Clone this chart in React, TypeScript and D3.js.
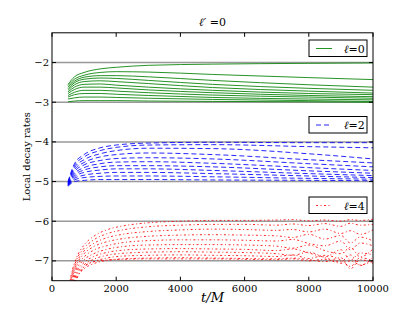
import React from 'react';
import * as d3 from 'd3';

// sample times (t/M) and read-off curve values for each family
const tGreen = [500, 700, 1000, 1500, 2000, 3000, 5000, 8000, 10000];
const green = [
  [-2.55, -2.36, -2.25, -2.16, -2.12, -2.07, -2.04, -2.02, -2.01],
  [-2.58, -2.42, -2.32, -2.25, -2.23, -2.24, -2.3, -2.38, -2.43],
  [-2.62, -2.47, -2.37, -2.33, -2.33, -2.36, -2.45, -2.56, -2.62],
  [-2.66, -2.51, -2.42, -2.39, -2.4, -2.45, -2.55, -2.65, -2.7],
  [-2.7, -2.56, -2.48, -2.46, -2.48, -2.53, -2.63, -2.72, -2.77],
  [-2.74, -2.62, -2.55, -2.54, -2.57, -2.62, -2.7, -2.78, -2.81],
  [-2.78, -2.68, -2.62, -2.62, -2.64, -2.69, -2.76, -2.83, -2.86],
  [-2.83, -2.75, -2.7, -2.7, -2.72, -2.76, -2.82, -2.87, -2.9],
  [-2.87, -2.81, -2.78, -2.78, -2.8, -2.83, -2.88, -2.92, -2.94],
  [-2.92, -2.89, -2.87, -2.87, -2.88, -2.9, -2.93, -2.96, -2.98],
  [-2.99, -2.97, -2.96, -2.96, -2.96, -2.97, -2.98, -2.99, -3.0],
];

const tBlue = [500, 700, 1000, 1500, 2000, 3000, 5000, 8000, 10000];
const blue = [
  [-5.0, -4.55, -4.32, -4.15, -4.08, -4.03, -4.01, -4.02, -4.02],
  [-5.02, -4.6, -4.38, -4.22, -4.14, -4.08, -4.07, -4.12, -4.15],
  [-5.03, -4.65, -4.45, -4.3, -4.22, -4.16, -4.17, -4.3, -4.43],
  [-5.05, -4.7, -4.52, -4.38, -4.32, -4.28, -4.32, -4.45, -4.53],
  [-5.06, -4.75, -4.58, -4.47, -4.42, -4.4, -4.43, -4.55, -4.63],
  [-5.07, -4.8, -4.65, -4.55, -4.51, -4.5, -4.54, -4.65, -4.72],
  [-5.08, -4.84, -4.71, -4.63, -4.6, -4.6, -4.63, -4.73, -4.79],
  [-5.09, -4.88, -4.77, -4.71, -4.68, -4.68, -4.72, -4.8, -4.85],
  [-5.1, -4.92, -4.84, -4.79, -4.77, -4.77, -4.8, -4.86, -4.9],
  [-5.1, -4.96, -4.9, -4.87, -4.86, -4.86, -4.88, -4.92, -4.94],
  [-5.12, -5.0, -4.97, -4.95, -4.95, -4.95, -4.96, -4.97, -4.98],
];

const tRed = [500, 600, 750, 1000, 1300, 1700, 2200, 3000, 4000, 5000, 6000, 7000, 7500, 8000, 8500, 9000, 9300, 9600, 10000];
const red = [
  [-7.8, -7.35, -6.95, -6.6, -6.38, -6.22, -6.12, -6.04, -6.0, -5.98, -5.98, -5.97, -5.96, -5.99, -5.97, -6.0, -5.96, -5.98, -5.95],
  [-7.85, -7.4, -7.0, -6.68, -6.47, -6.32, -6.22, -6.14, -6.1, -6.08, -6.08, -6.1, -6.07, -6.11, -6.06, -6.13, -6.05, -6.1, -6.08],
  [-7.9, -7.45, -7.07, -6.75, -6.56, -6.42, -6.33, -6.26, -6.22, -6.2, -6.21, -6.23, -6.21, -6.27, -6.2, -6.31, -6.24, -6.33, -6.22],
  [-7.95, -7.5, -7.12, -6.82, -6.64, -6.52, -6.44, -6.38, -6.35, -6.34, -6.35, -6.37, -6.41, -6.33, -6.45, -6.36, -6.55, -6.4, -6.5],
  [-8.0, -7.55, -7.18, -6.9, -6.73, -6.62, -6.54, -6.49, -6.47, -6.47, -6.48, -6.5, -6.46, -6.56, -6.62, -6.5, -6.72, -6.55, -6.62],
  [-8.0, -7.6, -7.24, -6.97, -6.82, -6.71, -6.64, -6.6, -6.59, -6.59, -6.6, -6.63, -6.68, -6.6, -6.74, -6.82, -6.66, -6.9, -6.7],
  [-8.0, -7.65, -7.3, -7.04, -6.89, -6.79, -6.73, -6.7, -6.69, -6.7, -6.71, -6.74, -6.7, -6.8, -6.9, -6.72, -6.98, -6.8, -6.85],
  [-8.0, -7.7, -7.35, -7.1, -6.96, -6.86, -6.81, -6.78, -6.77, -6.78, -6.79, -6.82, -6.86, -6.78, -6.92, -7.02, -6.85, -7.12, -6.9],
  [-8.0, -7.75, -7.4, -7.15, -7.02, -6.93, -6.88, -6.86, -6.85, -6.86, -6.87, -6.89, -6.85, -6.94, -6.86, -6.98, -7.14, -6.92, -7.0],
  [-8.0, -7.8, -7.45, -7.2, -7.07, -6.99, -6.95, -6.93, -6.92, -6.93, -6.94, -6.95, -6.93, -6.97, -7.02, -6.92, -7.2, -6.97, -7.06],
  [-8.0, -7.85, -7.5, -7.15, -7.02, -6.98, -6.96, -6.95, -6.95, -6.95, -6.96, -6.97, -6.95, -7.0, -6.96, -7.06, -7.0, -7.1, -7.0],
];

const xTicks = [0, 2000, 4000, 6000, 8000, 10000];
const yTicks = [-2, -3, -4, -5, -6, -7];
const legendLabels = ['=0', '=2', '=4'];

const W = 415;
const H = 312;
const margin = { top: 32.8, right: 42, bottom: 31.3, left: 52 };

const x = d3.scaleLinear().domain([0, 10000]).range([margin.left, W - margin.right]);
const y = d3.scaleLinear().domain([-7.5, -1.25]).range([H - margin.bottom, margin.top]);

const line = d3
  .line<[number, number]>()
  .x(d => x(d[0]))
  .y(d => y(d[1]))
  .curve(d3.curveMonotoneX);

const families = [
  { t: tGreen, rows: green, color: '#008000', dash: undefined as string | undefined },
  { t: tBlue, rows: blue, color: '#0000ff', dash: '5,3' },
  { t: tRed, rows: red, color: '#ff0000', dash: '2,2.5,1,2.5' },
];

const serif = "'DejaVu Serif', 'Liberation Serif', serif";

export default function App() {
  const [x0, x1] = x.range();
  const [yb, yt] = y.range();
  // legend box tops (pixel) for each family
  const legendY = [40, 116.5, 197];

  return (
    <svg width={W} height={H} style={{ position: 'absolute', left: 0, top: 0, background: '#fff' }}>
      <defs>
        <clipPath id="plot">
          <rect x={x0} y={yt} width={x1 - x0} height={yb - yt} />
        </clipPath>
      </defs>

      {/* grey reference lines at integer rates */}
      {yTicks.map(v => (
        <line key={v} x1={x0} x2={x1} y1={y(v)} y2={y(v)} stroke="#999" strokeWidth={1.5} />
      ))}

      <g clipPath="url(#plot)" fill="none">
        {families.map((f, fi) =>
          f.rows.map((row, i) => (
            <path
              key={`${fi}-${i}`}
              d={line(f.t.map((t, j) => [t, row[j]] as [number, number])) ?? ''}
              stroke={f.color}
              strokeWidth={1}
              strokeDasharray={f.dash}
              strokeOpacity={0.85}
            />
          ))
        )}
      </g>

      {/* frame */}
      <rect x={x0} y={yt} width={x1 - x0} height={yb - yt} fill="none" stroke="#000" strokeWidth={1} />

      {/* ticks */}
      {xTicks.map(t => (
        <g key={t}>
          <line x1={x(t)} x2={x(t)} y1={yb} y2={yb - 4} stroke="#000" />
          <line x1={x(t)} x2={x(t)} y1={yt} y2={yt + 4} stroke="#000" />
          <text x={x(t)} y={yb + 11} fontSize={10} fontFamily={serif} textAnchor="middle">
            {t}
          </text>
        </g>
      ))}
      {yTicks.map(v => (
        <g key={v}>
          <line x1={x0} x2={x0 + 4} y1={y(v)} y2={y(v)} stroke="#000" />
          <line x1={x1} x2={x1 - 4} y1={y(v)} y2={y(v)} stroke="#000" />
          <text x={x0 - 3} y={y(v) + 3.5} fontSize={10} fontFamily={serif} textAnchor="end">
            {'\u2212' + Math.abs(v)}
          </text>
        </g>
      ))}

      {/* legends */}
      {families.map((f, i) => (
        <g key={i} transform={`translate(309,${legendY[i]})`}>
          <rect width={58} height={16.5} fill="#fff" stroke="#000" strokeWidth={1} />
          <line x1={7} x2={23} y1={8.5} y2={8.5} stroke={f.color} strokeOpacity={0.85} strokeDasharray={f.dash} strokeWidth={1} />
          <text x={35} y={12.5} fontSize={11} fontFamily={serif}>
            <tspan fontStyle="italic">ℓ</tspan>
            {legendLabels[i]}
          </text>
        </g>
      ))}

      {/* title and axis labels */}
      <text x={(x0 + x1) / 2} y={26} fontSize={11} fontFamily={serif} textAnchor="middle">
        <tspan fontStyle="italic">ℓ</tspan>′ =0
      </text>
      <text
        transform={`translate(30,${(yt + yb) / 2}) rotate(-90)`}
        fontSize={10}
        fontFamily={serif}
        textAnchor="middle"
      >
        Local decay rates
      </text>
      <text x={(x0 + x1) / 2} y={302} fontSize={13} fontFamily={serif} fontStyle="italic" textAnchor="middle">
        t/M
      </text>
    </svg>
  );
}
